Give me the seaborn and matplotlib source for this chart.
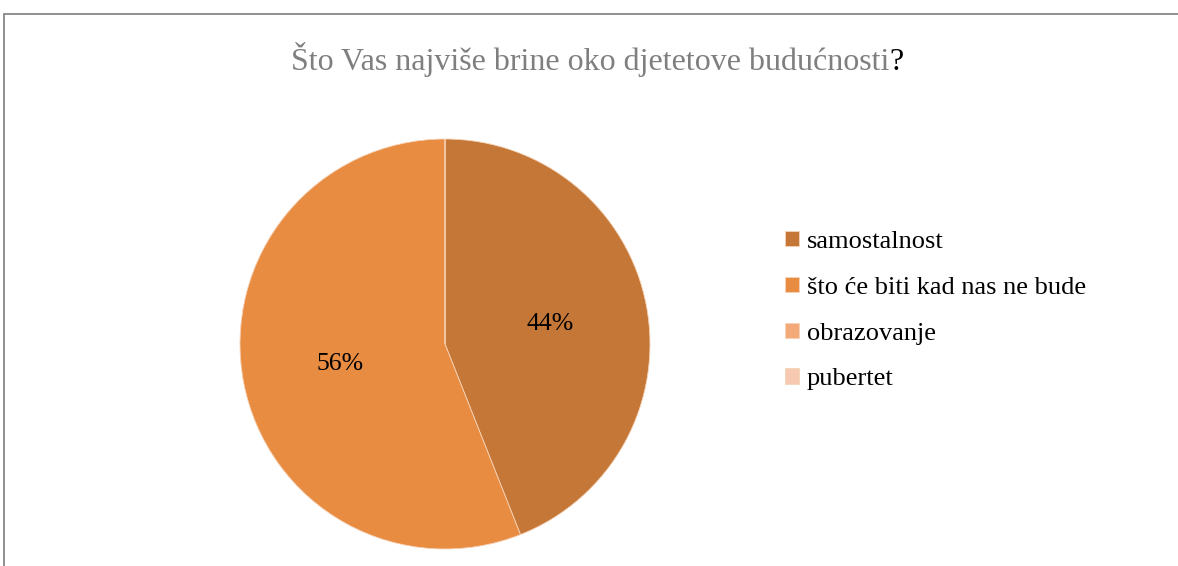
import seaborn as sns
import matplotlib.pyplot as plt
from matplotlib.patches import Rectangle

categories = ["samostalnost", "što će biti kad nas ne bude", "obrazovanje", "pubertet"]
shares = [44, 56, 0, 0]
colors = ["#C47736", "#E88C42", "#F4A978", "#F7C9B0"]

sns.set_theme(style="white")
plt.rcParams["font.family"] = ["Liberation Serif", "DejaVu Serif"]
plt.rcParams["text.color"] = "black"

fig = plt.figure(figsize=(11.78, 5.66), dpi=100)
W, H = 1178, 566

# chart border (only top and left visible in the crop)
fig.patches.append(Rectangle((4 / W, -0.1), 1.2, 1 - 14 / H + 0.1, transform=fig.transFigure,
                             fill=False, edgecolor="#878787", linewidth=1.3))

cx, cy, r = 445, 344, 205
ax = fig.add_axes([(cx - r) / W, (H - cy - r) / H, 2 * r / W, 2 * r / H])
wedges, texts, autotexts = ax.pie(
    shares, colors=colors, startangle=90, counterclock=False, radius=1,
    autopct=lambda p: f"{p:.0f}%" if p > 0 else "", pctdistance=0.52,
    wedgeprops={"edgecolor": "#F6D3B8", "linewidth": 0.6},
    textprops={"fontsize": 18.5, "color": "black"})
ax.set_xlim(-1, 1)
ax.set_ylim(-1, 1)
ax.set_aspect("equal")
ax.axis("off")

fig.legend(wedges, categories, loc="upper left", bbox_to_anchor=(785 / W, 1 - 231 / H),
           frameon=False, fontsize=19, handlelength=0.52, handleheight=0.52,
           handletextpad=0.3, labelspacing=0.9, borderpad=0, borderaxespad=0,
           labelcolor="black")

# title: gray text with a black question mark
t = fig.text(291 / W, 1 - 70 / H, "Što Vas najviše brine oko djetetove budućnosti",
             fontsize=23, color="#7F7F7F", ha="left", va="baseline")
fig.canvas.draw()
bb = t.get_window_extent()
fig.text(bb.x1 / W, 1 - 70 / H, "?", fontsize=23, color="black", ha="left", va="baseline")

fig.savefig("out.png", dpi=100)
